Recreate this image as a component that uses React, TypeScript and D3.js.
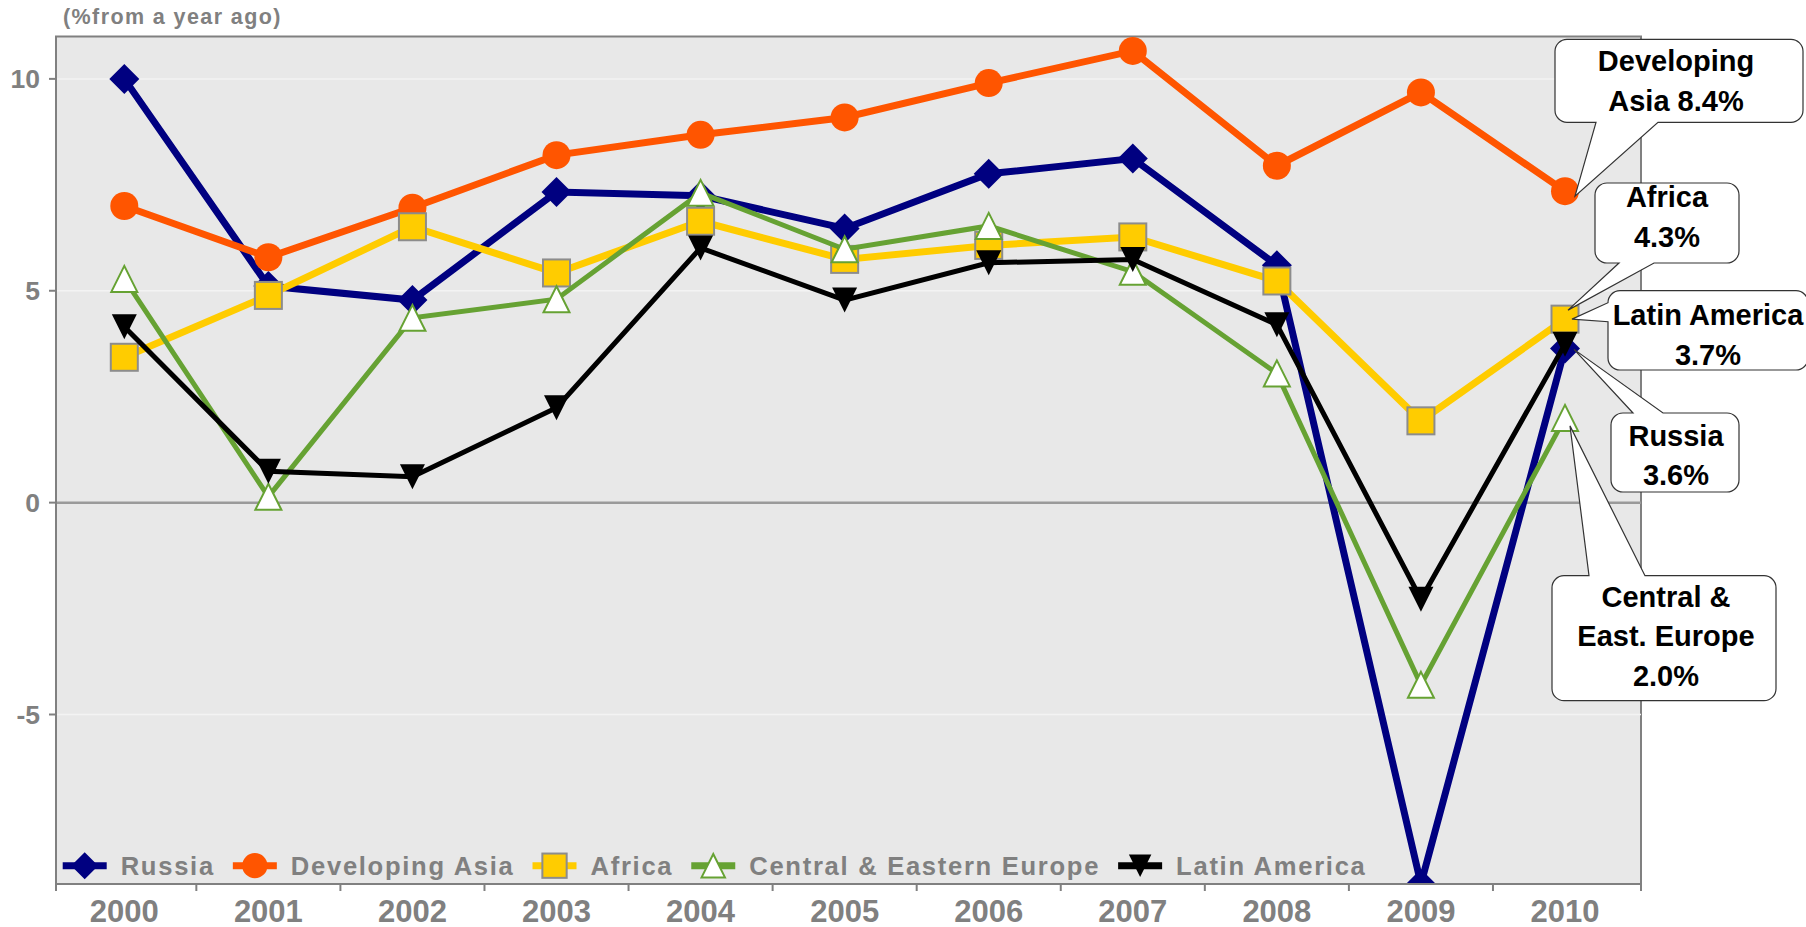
import React, { useEffect, useRef } from "react";
import * as d3 from "d3";

const years = ["2000", "2001", "2002", "2003", "2004", "2005", "2006", "2007", "2008", "2009", "2010"];
const russia = [10.0, 5.11, 4.78, 7.33, 7.24, 6.47, 7.76, 8.12, 5.6, -9.0, 3.64];
const developingAsia = [7.0, 5.79, 6.96, 8.2, 8.68, 9.09, 9.9, 10.66, 7.95, 9.68, 7.35];
const africa = [3.43, 4.89, 6.51, 5.42, 6.64, 5.74, 6.07, 6.27, 5.23, 1.93, 4.33];
const centralEastEurope = [5.28, 0.14, 4.36, 4.8, 7.31, 5.98, 6.53, 5.45, 3.05, -4.3, 2.0];
const latinAmerica = [4.15, 0.74, 0.61, 2.24, 6.01, 4.78, 5.66, 5.74, 4.2, -2.28, 3.74];
const yTicks = [-5, 0, 5, 10];
const yTitle = "(%from a year ago)";

const seriesNames = ["Russia", "Developing Asia", "Africa", "Central & Eastern Europe", "Latin America"];
const calloutLabels = [
  ["Developing", "Asia 8.4%"],
  ["Africa", "4.3%"],
  ["Latin America", "3.7%"],
  ["Russia", "3.6%"],
  ["Central &", "East. Europe", "2.0%"],
];

const FONT = "'Liberation Sans', Arial, sans-serif";
const GRAY = "#808080";

export default function App() {
  const ref = useRef<SVGSVGElement>(null);

  useEffect(() => {
    const svg = d3.select(ref.current);
    svg.selectAll("*").remove();

    const left = 56, right = 1641, top = 36.5, bottom = 884;
    const x = d3.scalePoint<string>().domain(years).range([124.3, 1565]);
    const step = x.step();
    const y = d3.scaleLinear().domain([-9, 11]).range([bottom, top]);

    svg.append("defs").append("clipPath").attr("id", "plotclip")
      .append("rect").attr("x", left).attr("y", top).attr("width", right - left).attr("height", bottom - top);

    // plot background
    svg.append("rect").attr("x", left).attr("y", top).attr("width", right - left).attr("height", bottom - top)
      .attr("fill", "#e8e8e8").attr("stroke", GRAY).attr("stroke-width", 2);

    // gridlines
    yTicks.forEach((t) => {
      svg.append("line").attr("x1", left).attr("x2", right).attr("y1", y(t)).attr("y2", y(t))
        .attr("stroke", t === 0 ? "#9a9a9a" : "#f3f3f3").attr("stroke-width", t === 0 ? 2.5 : 1.5);
    });

    // y axis
    svg.append("line").attr("x1", left).attr("x2", left).attr("y1", top).attr("y2", bottom + 7).attr("stroke", GRAY).attr("stroke-width", 2);
    yTicks.forEach((t) => {
      svg.append("line").attr("x1", left - 7).attr("x2", left).attr("y1", y(t)).attr("y2", y(t)).attr("stroke", GRAY).attr("stroke-width", 2);
      svg.append("text").attr("x", 40).attr("y", y(t)).attr("dy", "0.36em").attr("text-anchor", "end")
        .attr("font-family", FONT).attr("font-weight", "bold").attr("font-size", 26.5).attr("fill", GRAY).text(String(t));
    });

    // x axis
    svg.append("line").attr("x1", left).attr("x2", right).attr("y1", bottom).attr("y2", bottom).attr("stroke", GRAY).attr("stroke-width", 2);
    const tickXs = [left, ...years.slice(0, -1).map((yr) => (x(yr) as number) + step / 2), right];
    tickXs.forEach((tx) => {
      svg.append("line").attr("x1", tx).attr("x2", tx).attr("y1", bottom).attr("y2", bottom + 7).attr("stroke", GRAY).attr("stroke-width", 2);
    });
    years.forEach((yr) => {
      svg.append("text").attr("x", x(yr) as number).attr("y", 921.5).attr("text-anchor", "middle")
        .attr("font-family", FONT).attr("font-weight", "bold").attr("font-size", 31).attr("fill", GRAY).text(yr);
    });

    // title
    svg.append("text").attr("x", 63).attr("y", 23.5).attr("font-family", FONT).attr("font-weight", "bold")
      .attr("font-size", 21.5).attr("letter-spacing", 1.4).attr("fill", GRAY).text(yTitle);

    // marker drawers
    type Drawer = (g: any, cx: number, cy: number, s: number) => void;
    const diamond: Drawer = (g, cx, cy, s) => {
      const h = 15 * s;
      g.append("path").attr("d", `M${cx},${cy - h}L${cx + h},${cy}L${cx},${cy + h}L${cx - h},${cy}Z`).attr("fill", "#000080");
    };
    const circle: Drawer = (g, cx, cy, s) => {
      g.append("circle").attr("cx", cx).attr("cy", cy).attr("r", 14 * s).attr("fill", "#ff5500");
    };
    const square: Drawer = (g, cx, cy, s) => {
      const h = 13.5 * s;
      g.append("rect").attr("x", cx - h).attr("y", cy - h).attr("width", 2 * h).attr("height", 2 * h)
        .attr("fill", "#ffcc00").attr("stroke", "#8c8c8c").attr("stroke-width", 2);
    };
    const triUp: Drawer = (g, cx, cy, s) => {
      const h = 13 * s;
      g.append("path").attr("d", `M${cx},${cy - h}L${cx + h},${cy + h}L${cx - h},${cy + h}Z`)
        .attr("fill", "#ffffff").attr("stroke", "#66a233").attr("stroke-width", 2);
    };
    const triDown: Drawer = (g, cx, cy, s) => {
      const h = 12.5 * s;
      g.append("path").attr("d", `M${cx - h},${cy - h}L${cx + h},${cy - h}L${cx},${cy + h}Z`).attr("fill", "#000000");
    };

    const series = [
      { name: seriesNames[0], values: russia, color: "#000080", width: 7, marker: diamond },
      { name: seriesNames[1], values: developingAsia, color: "#ff5500", width: 7, marker: circle },
      { name: seriesNames[2], values: africa, color: "#ffcc00", width: 7, marker: square },
      { name: seriesNames[3], values: centralEastEurope, color: "#66a233", width: 5, marker: triUp },
      { name: seriesNames[4], values: latinAmerica, color: "#000000", width: 5, marker: triDown },
    ];

    const line = d3.line<number>().x((_, i) => x(years[i]) as number).y((v) => y(v));
    const plotG = svg.append("g").attr("clip-path", "url(#plotclip)");
    series.forEach((s) => {
      const g = plotG.append("g");
      g.append("path").attr("d", line(s.values)).attr("fill", "none").attr("stroke", s.color)
        .attr("stroke-width", s.width).attr("stroke-linejoin", "miter");
      s.values.forEach((v, i) => s.marker(g, x(years[i]) as number, y(v), 1));
    });
    // redraw bottom axis line over clipped markers
    svg.append("line").attr("x1", left).attr("x2", right).attr("y1", bottom).attr("y2", bottom).attr("stroke", GRAY).attr("stroke-width", 2);

    // legend
    const lg = svg.append("g");
    let lx = 62.7;
    const ly = 865.7;
    series.forEach((s) => {
      lg.append("line").attr("x1", lx).attr("x2", lx + 44).attr("y1", ly).attr("y2", ly)
        .attr("stroke", s.color).attr("stroke-width", 7);
      s.marker(lg, lx + 22, ly, 0.9);
      const t = lg.append("text").attr("x", lx + 58).attr("y", 875).attr("font-family", FONT).attr("font-weight", "bold")
        .attr("font-size", 25.6).attr("letter-spacing", 1.7).attr("fill", GRAY).text(s.name);
      const w = (t.node() as SVGTextElement).getComputedTextLength();
      lx = lx + 58 + w + 18;
    });

    // callouts
    const callouts = [
      { box: [1555, 39.3, 248, 83], side: "bottom", base: [1596, 1658], si: 1, off: [10, 5], lines: calloutLabels[0], tx: 1676, ty: 71 },
      { box: [1595, 183, 144, 80], side: "bottom", base: [1619, 1654], si: 2, off: [3, -9], lines: calloutLabels[1], tx: 1667, ty: 207.3 },
      { box: [1608, 290.7, 200, 79.3], side: "left", base: [302.7, 321.7], si: 4, off: [7, -25], lines: calloutLabels[2], tx: 1708, ty: 325 },
      { box: [1611, 413, 128, 79], side: "top", base: [1633, 1663], si: 0, off: [9, 1], lines: calloutLabels[3], tx: 1676, ty: 445.7 },
      { box: [1552, 575.7, 224, 125], side: "top", base: [1589, 1645], si: 3, off: [5, 8], lines: calloutLabels[4], tx: 1666, ty: 606.7 },
    ];
    const r = 12;
    callouts.forEach((c) => {
      const [bx, by, bw, bh] = c.box as number[];
      const vals = series[c.si].values;
      const tipX = (x(years[years.length - 1]) as number) + c.off[0];
      const tipY = y(vals[vals.length - 1]) + c.off[1];
      const p = d3.path();
      p.moveTo(bx + r, by);
      if (c.side === "top") {
        p.lineTo(c.base[0], by); p.lineTo(tipX, tipY); p.lineTo(c.base[1], by);
      }
      p.lineTo(bx + bw - r, by);
      p.arcTo(bx + bw, by, bx + bw, by + r, r);
      p.lineTo(bx + bw, by + bh - r);
      p.arcTo(bx + bw, by + bh, bx + bw - r, by + bh, r);
      if (c.side === "bottom") {
        p.lineTo(c.base[1], by + bh); p.lineTo(tipX, tipY); p.lineTo(c.base[0], by + bh);
      }
      p.lineTo(bx + r, by + bh);
      p.arcTo(bx, by + bh, bx, by + bh - r, r);
      if (c.side === "left") {
        p.lineTo(bx, c.base[1]); p.lineTo(tipX, tipY); p.lineTo(bx, c.base[0]);
      }
      p.lineTo(bx, by + r);
      p.arcTo(bx, by, bx + r, by, r);
      p.closePath();
      svg.append("path").attr("d", p.toString()).attr("fill", "#ffffff").attr("stroke", "#333333").attr("stroke-width", 1.2);
      c.lines.forEach((ln, i) => {
        svg.append("text").attr("x", c.tx).attr("y", c.ty + i * 39.5).attr("text-anchor", "middle")
          .attr("font-family", FONT).attr("font-weight", "bold").attr("font-size", 29).attr("fill", "#000000").text(ln);
      });
    });
  }, []);

  return (
    <div style={{ position: "absolute", left: 0, top: 0, width: 1806, height: 927, overflow: "hidden", background: "#ffffff" }}>
      <svg ref={ref} width={1806} height={927} style={{ display: "block" }} />
    </div>
  );
}
